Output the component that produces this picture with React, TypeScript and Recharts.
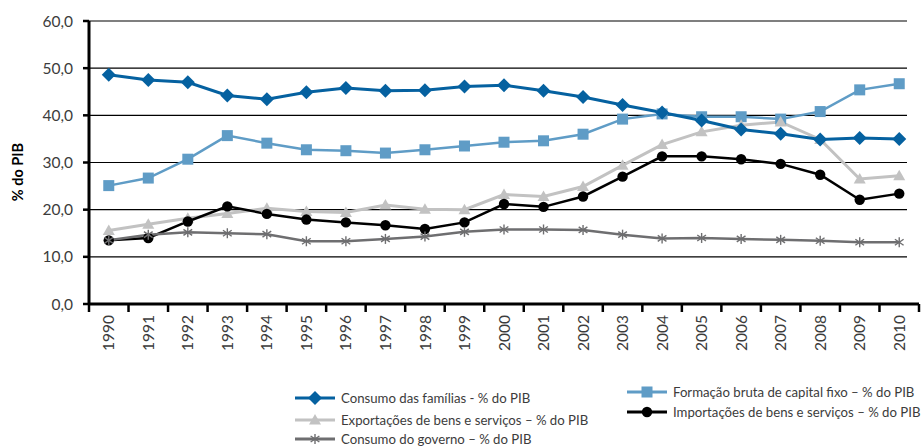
import React from 'react';
import { LineChart, Line, XAxis, YAxis, CartesianGrid } from 'recharts';

const years = ['1990','1991','1992','1993','1994','1995','1996','1997','1998','1999','2000','2001','2002','2003','2004','2005','2006','2007','2008','2009','2010'];
const familias = [48.6,47.5,47.0,44.2,43.4,44.9,45.8,45.2,45.3,46.1,46.4,45.2,43.9,42.2,40.6,38.9,37.0,36.1,34.9,35.2,35.0];
const fbcf = [25.1,26.7,30.7,35.7,34.1,32.7,32.5,32.0,32.7,33.5,34.3,34.6,36.0,39.2,40.3,39.7,39.7,39.2,40.8,45.4,46.7];
const exportacoes = [15.6,16.9,18.2,19.2,20.3,19.6,19.4,21.0,20.1,20.0,23.2,22.8,24.9,29.4,33.8,36.5,37.9,38.6,34.9,26.5,27.2];
const importacoes = [13.5,14.0,17.5,20.7,19.1,17.9,17.3,16.7,15.9,17.3,21.2,20.6,22.8,27.0,31.3,31.3,30.7,29.7,27.4,22.1,23.4];
const governo = [13.5,14.7,15.2,15.0,14.8,13.3,13.3,13.8,14.3,15.3,15.8,15.8,15.7,14.7,13.9,14.0,13.8,13.6,13.4,13.1,13.1];
const yTicks = [0,10,20,30,40,50,60];

const labelFamilias = 'Consumo das famílias - % do PIB';
const labelExport = 'Exportações de bens e serviços – % do PIB';
const labelGoverno = 'Consumo do governo – % do PIB';
const labelFbcf = 'Formação bruta de capital fixo – % do PIB';
const labelImport = 'Importações de bens e serviços – % do PIB';

const data = years.map((y, i) => ({
  year: y,
  familias: familias[i],
  fbcf: fbcf[i],
  exportacoes: exportacoes[i],
  importacoes: importacoes[i],
  governo: governo[i],
}));

const C_FAM = '#0561a0';
const C_FBCF = '#5f9cc6';
const C_EXP = '#c2c2c2';
const C_IMP = '#000000';
const C_GOV = '#6e6e70';

const FONT = 'Lato, "Noto Sans", sans-serif';
const TXT = '#3c3c3c';

const W = 923;
const H = 446;
const M = { top: 21, right: 4, bottom: 92, left: 0 };
const YW = 89;
const XH = 50;
const PLOT_W = W - M.left - M.right - YW;
const HALF_BAND = PLOT_W / years.length / 2;

const Diamond = ({ cx, cy, s = 7, fill }: any) =>
  cx == null ? null : <path d={`M${cx},${cy - s}L${cx + s},${cy}L${cx},${cy + s}L${cx - s},${cy}Z`} fill={fill} />;
const Square = ({ cx, cy, s = 5.5, fill }: any) =>
  cx == null ? null : <rect x={cx - s} y={cy - s} width={2 * s} height={2 * s} fill={fill} />;
const Triangle = ({ cx, cy, s = 6, fill }: any) =>
  cx == null ? null : <path d={`M${cx},${cy - s}L${cx + s},${cy + s * 0.75}L${cx - s},${cy + s * 0.75}Z`} fill={fill} />;
const Circle = ({ cx, cy, r = 5.2, fill }: any) =>
  cx == null ? null : <circle cx={cx} cy={cy} r={r} fill={fill} />;
const Star = ({ cx, cy, s = 5, stroke }: any) =>
  cx == null ? null : (
    <g stroke={stroke} strokeWidth={1.4}>
      <line x1={cx} y1={cy - s} x2={cx} y2={cy + s} />
      <line x1={cx - s * 0.87} y1={cy - s * 0.6} x2={cx + s * 0.87} y2={cy + s * 0.6} />
      <line x1={cx - s * 0.87} y1={cy + s * 0.6} x2={cx + s * 0.87} y2={cy - s * 0.6} />
    </g>
  );

const XTick = (props: any) => {
  const { x, y, payload, index, visibleTicksCount } = props;
  const half = HALF_BAND;
  const n = visibleTicksCount || years.length;
  return (
    <g>
      <line x1={x - half} y1={y} x2={x - half} y2={y + 8} stroke="#000" strokeWidth={2.5} />
      {index === n - 1 ? <line x1={x + half} y1={y} x2={x + half} y2={y + 8} stroke="#000" strokeWidth={2.5} /> : null}
      <text
        x={x}
        y={y + 11}
        transform={`rotate(-90, ${x}, ${y + 11})`}
        textAnchor="end"
        dy="0.36em"
        fontSize={15.5}
        fontFamily={FONT}
        fill={TXT}
      >
        {payload.value}
      </text>
    </g>
  );
};

const YLabel = () => (
  <text
    x={17}
    y={172}
    transform="rotate(-90, 17, 172)"
    textAnchor="middle"
    dominantBaseline="central"
    fontSize={14.5}
    fontWeight="bold"
    fontFamily={FONT}
    fill="#000"
  >
    % do PIB
  </text>
);

const LegendItem = ({ x, y, color, marker, label, width = 3 }: any) => (
  <g>
    <line x1={x} y1={y} x2={x + 40} y2={y} stroke={color} strokeWidth={width} />
    {marker(x + 20, y)}
    <text x={x + 46} y={y} dominantBaseline="central" fontSize={13.2} fontFamily={FONT} fill={TXT}>
      {label}
    </text>
  </g>
);

export default function App() {
  return (
    <div style={{ position: 'absolute', left: 0, top: 0, width: W, height: H, background: '#fff' }}>
      <LineChart width={W} height={H} data={data} margin={M}>
        <CartesianGrid
          vertical={false}
          horizontal={(p: any) => (
            <line key={p.key} x1={p.x1} x2={p.x2 - 12} y1={p.y1} y2={p.y2} stroke="#000" strokeWidth={1.2} />
          )}
        />
        <XAxis
          dataKey="year"
          height={XH}
          interval={0}
          padding={{ left: HALF_BAND, right: HALF_BAND }}
          tickLine={false}
          tickSize={0}
          tickMargin={0}
          axisLine={{ stroke: '#000', strokeWidth: 3 }}
          tick={<XTick />}
        />
        <YAxis
          width={YW}
          domain={[0, 60]}
          ticks={yTicks}
          interval={0}
          tickFormatter={(v: number) => v.toFixed(1).replace('.', ',')}
          tickSize={6}
          tickMargin={10}
          tickLine={{ stroke: '#000', strokeWidth: 2.5 }}
          axisLine={{ stroke: '#000', strokeWidth: 3 }}
          tick={{ fontSize: 15.5, fontFamily: FONT, fill: TXT }}
          label={<YLabel />}
        />
        <Line dataKey="fbcf" stroke={C_FBCF} strokeWidth={2.5} isAnimationActive={false}
          dot={(p: any) => <Square key={p.index} cx={p.cx} cy={p.cy} fill={C_FBCF} />} activeDot={false} />
        <Line dataKey="exportacoes" stroke={C_EXP} strokeWidth={3} isAnimationActive={false}
          dot={(p: any) => <Triangle key={p.index} cx={p.cx} cy={p.cy} fill={C_EXP} />} activeDot={false} />
        <Line dataKey="importacoes" stroke={C_IMP} strokeWidth={2.5} isAnimationActive={false}
          dot={(p: any) => <Circle key={p.index} cx={p.cx} cy={p.cy} fill={C_IMP} />} activeDot={false} />
        <Line dataKey="governo" stroke={C_GOV} strokeWidth={2.5} isAnimationActive={false}
          dot={(p: any) => <Star key={p.index} cx={p.cx} cy={p.cy} stroke={C_GOV} />} activeDot={false} />
        <Line dataKey="familias" stroke={C_FAM} strokeWidth={3} isAnimationActive={false}
          dot={(p: any) => <Diamond key={p.index} cx={p.cx} cy={p.cy} fill={C_FAM} />} activeDot={false} />
      </LineChart>
      <svg width={W} height={H} style={{ position: 'absolute', left: 0, top: 0, pointerEvents: 'none' }}>
        <LegendItem x={295} y={398} color={C_FAM} label={labelFamilias}
          marker={(cx: number, cy: number) => <Diamond cx={cx} cy={cy} fill={C_FAM} />} />
        <LegendItem x={295} y={420} color={C_EXP} label={labelExport}
          marker={(cx: number, cy: number) => <Triangle cx={cx} cy={cy} fill={C_EXP} />} />
        <LegendItem x={295} y={439} color={C_GOV} label={labelGoverno}
          marker={(cx: number, cy: number) => <Star cx={cx} cy={cy} stroke={C_GOV} />} />
        <LegendItem x={627} y={392} color={C_FBCF} label={labelFbcf}
          marker={(cx: number, cy: number) => <Square cx={cx} cy={cy} fill={C_FBCF} />} />
        <LegendItem x={627} y={412} color={C_IMP} label={labelImport}
          marker={(cx: number, cy: number) => <Circle cx={cx} cy={cy} fill={C_IMP} />} />
      </svg>
    </div>
  );
}
